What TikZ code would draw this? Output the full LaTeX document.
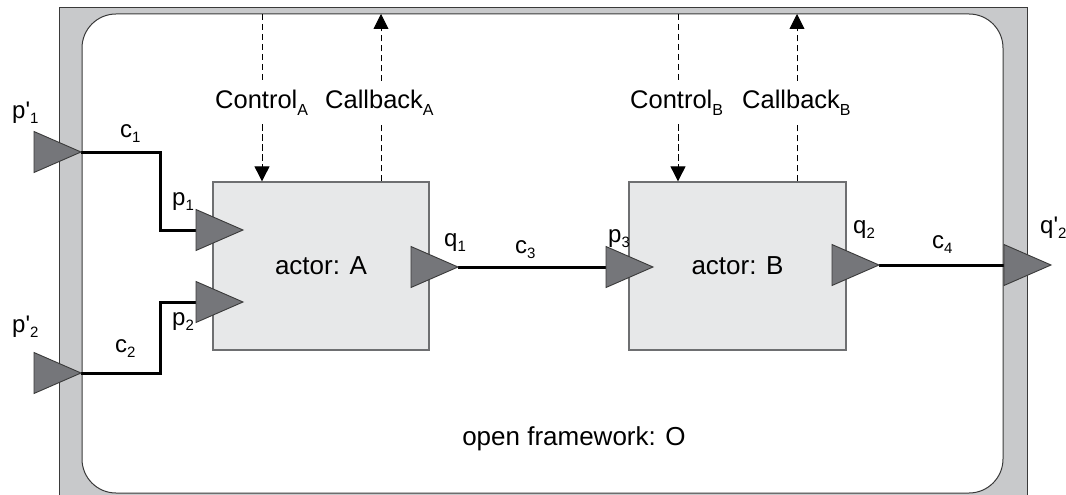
\documentclass[tikz,border=0pt]{standalone}
\usepackage{fontspec}
\setmainfont{Liberation Sans}
\usetikzlibrary{arrows.meta,calc}
\definecolor{framegray}{HTML}{C8C9CB}
\definecolor{boxgray}{HTML}{E7E8E9}
\definecolor{boxline}{HTML}{6E6F71}
\definecolor{portfill}{HTML}{75767A}
\definecolor{darkline}{HTML}{3A3A3A}
\newcommand{\lsub}[1]{\raisebox{-5pt}{\fontsize{15}{15}\selectfont #1}}
\newcommand{\csub}[1]{\raisebox{-7pt}{\fontsize{16}{16}\selectfont #1}}
\newcommand{\port}[3]{%
  \draw[portstyle] ({#2},{#3-20.5}) -- ({#2+47},{#3}) -- ({#2},{#3+20.5}) -- cycle;
  \coordinate (#1) at ({#2+47},{#3});
  \coordinate (#1b) at ({#2},{#3});}
\tikzset{
  portstyle/.style={fill=portfill, draw=darkline, line width=0.9pt, line join=miter},
  conn/.style={line width=3pt, black, line cap=butt},
  actorbox/.style={draw=boxline, fill=boxgray, line width=1.3pt, minimum width=216pt, minimum height=168pt, inner sep=0pt, font=\fontsize{26}{26}\selectfont},
  dashline/.style={line width=0.9pt, dash pattern=on 6.5pt off 3.5pt, -{Triangle[length=15pt,width=15pt]}},
  sigtext/.style={fill=white, anchor=base west, inner xsep=2pt, inner ysep=9pt, font=\fontsize{25.5}{25.5}\selectfont},
  plab/.style={anchor=base west, inner sep=0pt, font=\fontsize{24}{24}\selectfont}
}
\begin{document}
\begin{tikzpicture}[x=1pt,y=-1pt]
\useasboundingbox (0,0) rectangle (1066,495);
% outer frame
\fill[framegray] (59,8) rectangle (1027,495);
\draw[darkline, line width=1pt] (59,495) -- (59,8) -- (1027,8) -- (1027,495);
% inner framework
\node (fw) [draw=darkline, fill=white, line width=1pt, rounded corners=34pt, minimum width=921pt, minimum height=479pt, inner sep=0pt] at (542.5,253.5) {};
\node (fwlabel) [anchor=base, inner sep=0pt, font=\fontsize{26}{26}\selectfont] at (574,445) {open framework: O};
% actors
\node (A) [actorbox] at (321,266) {actor: A};
\node (B) [actorbox, minimum width=217pt] at (737.5,266) {actor: B};
% control / callback
\coordinate (ctlA) at (262,14);
\coordinate (cbA) at (381,14);
\coordinate (ctlB) at (678,14);
\coordinate (cbB) at (797,14);
\draw[dashline] (ctlA) -- (ctlA |- A.north);
\draw[dashline] (cbA |- A.north) -- (cbA);
\draw[dashline] (ctlB) -- (ctlB |- B.north);
\draw[dashline] (cbB |- B.north) -- (cbB);
\node (ctlAlab) [sigtext] at (213,108) {Control\csub{A}};
\node (cbAlab) [sigtext] at (323,108) {Callback\csub{A}};
\node (ctlBlab) [sigtext] at (628,108) {Control\csub{B}};
\node (cbBlab) [sigtext] at (740,108) {Callback\csub{B}};
% connectors
\coordinate (pp1) at (81,152);
\coordinate (pp2) at (81,373);
\coordinate (p1b) at (196,230);
\coordinate (p2b) at (196,302);
\coordinate (q1) at (458,267);
\coordinate (p3b) at (606,267);
\coordinate (q2) at (879,265);
\coordinate (qq2b) at (1004,265);
\draw[conn] (pp1) -- ++(79,0) |- (p1b);
\draw[conn] (pp2) -- ++(79,0) |- (p2b);
\draw[conn] (q1) -- (p3b);
\draw[conn] (q2) -- (qq2b);
% ports
\port{pp1}{34}{152}
\port{pp2}{34}{373}
\port{p1}{196}{230}
\port{p2}{196}{302}
\port{q1}{411}{267}
\port{p3}{606}{267}
\port{q2}{832}{265}
\port{qq2}{1004}{265}
% labels
\node (pp1lab) [plab] at (12,118) {p\textquotesingle\lsub{1}};
\node (c1lab) [plab] at (120,137) {c\lsub{1}};
\node (p1lab) [plab] at (172,205) {p\lsub{1}};
\node (p2lab) [plab] at (172,325) {p\lsub{2}};
\node (c2lab) [plab] at (115,352) {c\lsub{2}};
\node (pp2lab) [plab] at (12,332) {p\textquotesingle\lsub{2}};
\node (q1lab) [plab] at (444,246) {q\lsub{1}};
\node (c3lab) [plab] at (515,253) {c\lsub{3}};
\node (p3lab) [plab] at (608,242) {p\lsub{3}};
\node (q2lab) [plab] at (853,233) {q\lsub{2}};
\node (c4lab) [plab] at (932,248) {c\lsub{4}};
\node (qq2lab) [plab] at (1040,233) {q\textquotesingle\lsub{2}};
\end{tikzpicture}
\end{document}
